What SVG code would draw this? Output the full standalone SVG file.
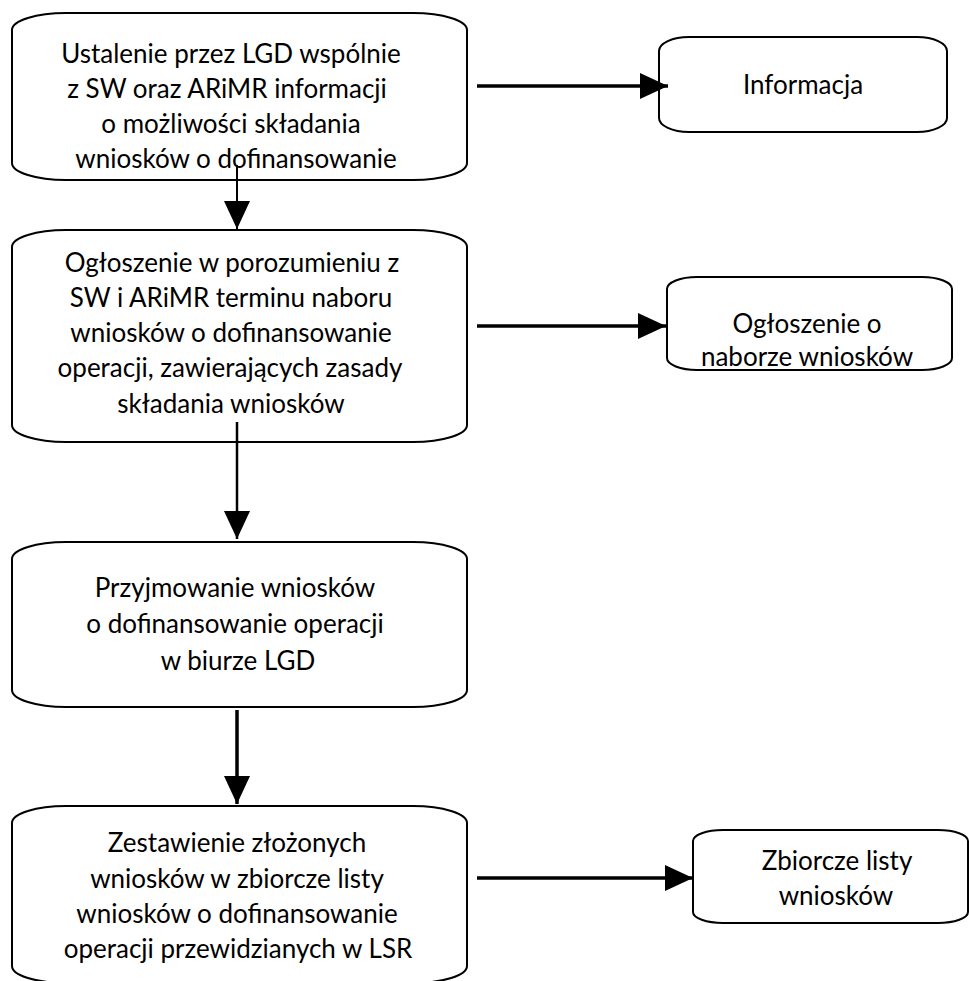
<svg xmlns="http://www.w3.org/2000/svg" width="969" height="981" viewBox="0 0 969 981">
<style>
.box{fill:#fff;stroke:#000;stroke-width:2}
.t{font-family:Lato,"Liberation Sans",sans-serif;font-size:26px;fill:#000;text-anchor:middle}
.c{stroke:#000;fill:none}
</style>
<defs>
<marker id="ah" viewBox="0 0 28 26" refX="28" refY="13" markerWidth="28" markerHeight="26" markerUnits="userSpaceOnUse" orient="auto">
<path d="M0,0 L28,13 L0,26 Z" fill="#000"/>
</marker>
</defs>
<rect width="969" height="981" fill="#fff"/>
<g id="n1">
<rect class="box" x="12" y="13" width="455" height="167" rx="54" ry="17"/>
<text class="t" x="231" y="63">Ustalenie przez LGD wspólnie</text>
<text class="t" x="227" y="98">z SW oraz ARiMR informacji</text>
<text class="t" x="231" y="133">o możliwości składania</text>
<text class="t" x="236" y="168">wniosków o dofinansowanie</text>
</g>
<g id="n2">
<rect class="box" x="12" y="230" width="455" height="212" rx="54" ry="17"/>
<text class="t" x="232" y="272">Ogłoszenie w porozumieniu z</text>
<text class="t" x="231" y="307">SW i ARiMR terminu naboru</text>
<text class="t" x="231" y="342">wniosków o dofinansowanie</text>
<text class="t" x="230" y="377">operacji, zawierających zasady</text>
<text class="t" x="231" y="413">składania wniosków</text>
</g>
<g id="n3">
<rect class="box" x="12" y="542" width="455" height="165" rx="54" ry="17"/>
<text class="t" x="235" y="597">Przyjmowanie wniosków</text>
<text class="t" x="235" y="633">o dofinansowanie operacji</text>
<text class="t" x="238" y="670">w biurze LGD</text>
</g>
<g id="n4">
<rect class="box" x="12" y="806" width="455" height="177" rx="54" ry="17"/>
<text class="t" x="237" y="852">Zestawienie złożonych</text>
<text class="t" x="237" y="888">wniosków w zbiorcze listy</text>
<text class="t" x="237" y="923">wniosków o dofinansowanie</text>
<text class="t" x="238" y="958">operacji przewidzianych w LSR</text>
</g>
<g id="n5">
<rect class="box" x="659" y="37" width="288" height="95" rx="30" ry="14"/>
<text class="t" x="803" y="94">Informacja</text>
</g>
<g id="n6">
<rect class="box" x="667" y="277" width="285" height="93" rx="30" ry="12"/>
<text class="t" x="807" y="333">Ogłoszenie o</text>
<text class="t" x="807" y="366">naborze wniosków</text>
</g>
<g id="n7">
<rect class="box" x="693" y="830" width="275" height="93" rx="30" ry="11"/>
<text class="t" x="837" y="870">Zbiorcze listy</text>
<text class="t" x="836" y="905">wniosków</text>
</g>
<g id="connectors">
<line class="c" x1="237" y1="165" x2="237" y2="229" stroke-width="2" marker-end="url(#ah)"/>
<line class="c" x1="237" y1="422" x2="237" y2="539" stroke-width="2.5" marker-end="url(#ah)"/>
<line class="c" x1="237" y1="710" x2="237" y2="804" stroke-width="3.5" marker-end="url(#ah)"/>
<line class="c" x1="477" y1="86" x2="668" y2="86" stroke-width="3.5" marker-end="url(#ah)"/>
<line class="c" x1="477" y1="326" x2="666" y2="326" stroke-width="3.5" marker-end="url(#ah)"/>
<line class="c" x1="477" y1="878" x2="693" y2="878" stroke-width="3.5" marker-end="url(#ah)"/>
</g>
</svg>
